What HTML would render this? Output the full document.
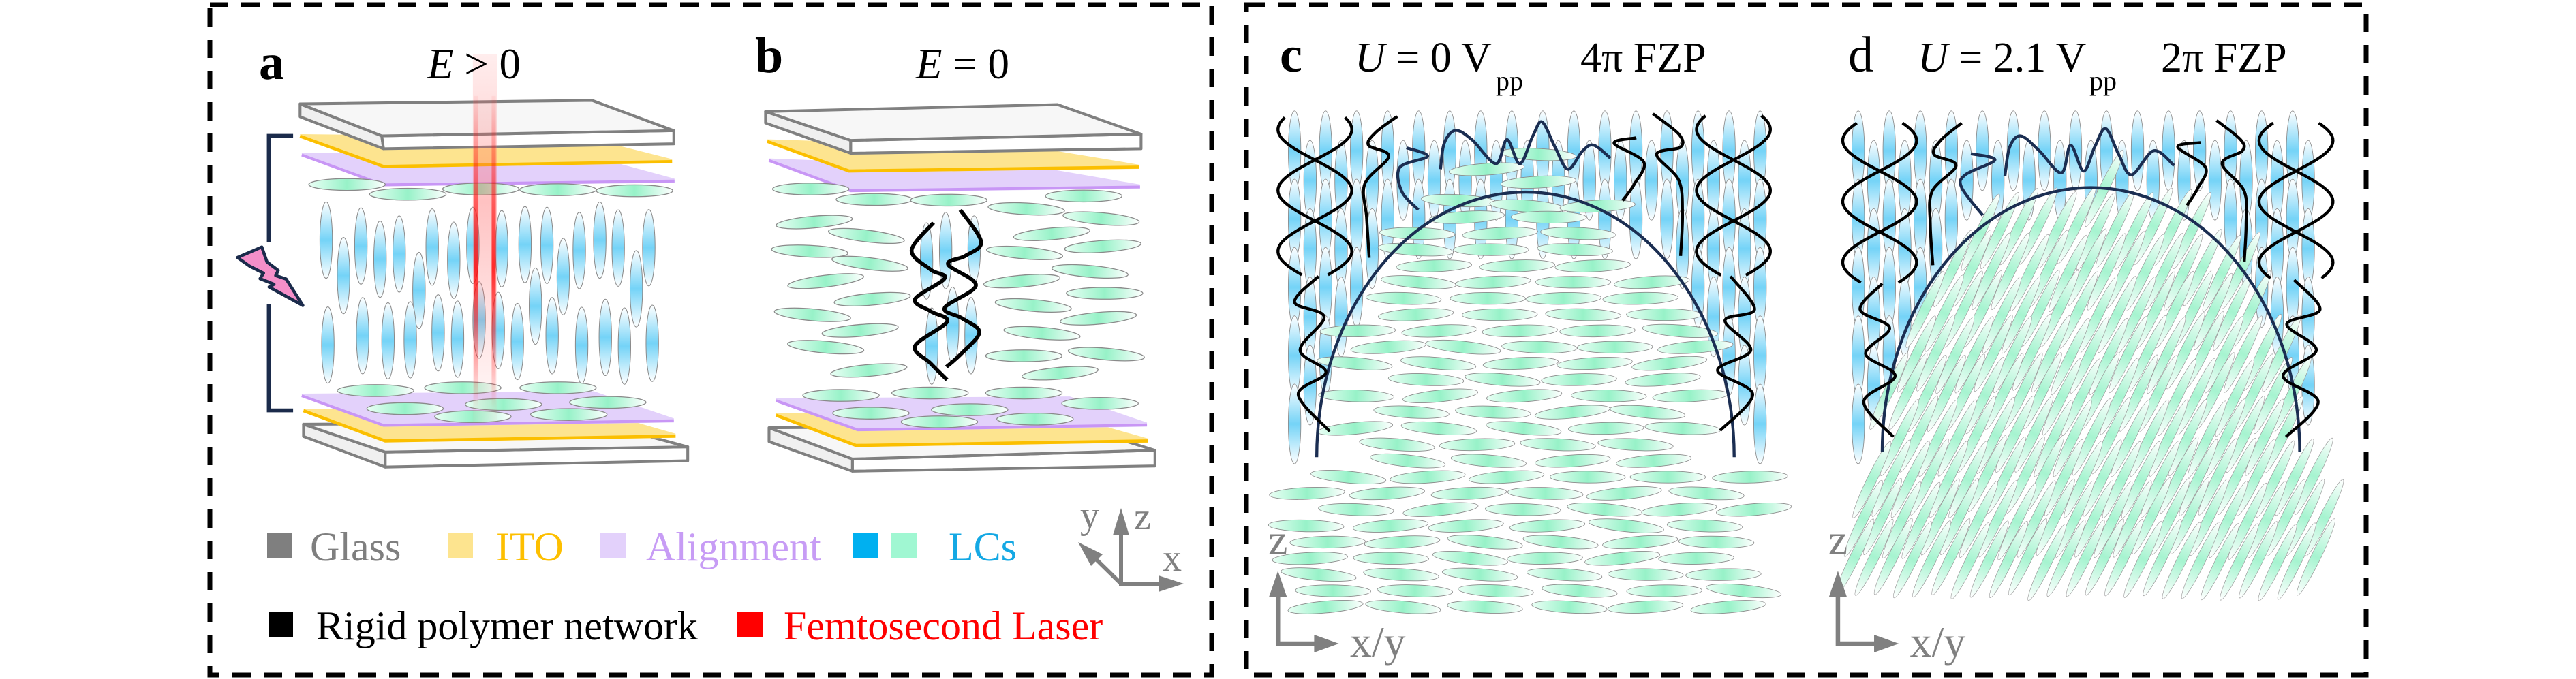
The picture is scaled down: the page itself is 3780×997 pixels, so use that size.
<!DOCTYPE html>
<html><head><meta charset="utf-8">
<style>
html,body{margin:0;padding:0;background:#fff;}
svg{display:block;font-family:"Liberation Serif","Times New Roman",serif;}
svg text{font-family:"Liberation Serif","Times New Roman",serif;}
</style></head>
<body>
<svg id="s" xmlns="http://www.w3.org/2000/svg" width="3780" height="997" viewBox="0 0 3780 997" font-family="Liberation Serif, serif">
<defs>
<linearGradient id="gB" x1="0" y1="0" x2="0" y2="1"><stop offset="0" stop-color="#ffffff"/><stop offset="0.5" stop-color="#74d3f7"/><stop offset="1" stop-color="#ffffff"/></linearGradient>
<linearGradient id="gG" x1="0" y1="0" x2="1" y2="0"><stop offset="0" stop-color="#eafff5"/><stop offset="0.5" stop-color="#97f2c8"/><stop offset="1" stop-color="#ffffff"/></linearGradient>
<linearGradient id="gG2" x1="0" y1="0" x2="1" y2="0"><stop offset="0" stop-color="#ffffff"/><stop offset="0.5" stop-color="#a6f4d0"/><stop offset="1" stop-color="#ffffff"/></linearGradient>
<linearGradient id="gL" x1="0" y1="0" x2="0" y2="1"><stop offset="0" stop-color="#ff6a6a" stop-opacity="0.12"/><stop offset="0.4" stop-color="#ff5050" stop-opacity="0.35"/><stop offset="1" stop-color="#ff8080" stop-opacity="0.05"/></linearGradient>
<linearGradient id="gLc" x1="0" y1="0" x2="0" y2="1"><stop offset="0" stop-color="#ff0000" stop-opacity="0.05"/><stop offset="0.35" stop-color="#ff0000" stop-opacity="0.55"/><stop offset="0.55" stop-color="#ff0000" stop-opacity="0.8"/><stop offset="1" stop-color="#ff0000" stop-opacity="0"/></linearGradient>
</defs>

<rect x="308" y="7" width="1470" height="984" fill="none" stroke="#000" stroke-width="7" stroke-dasharray="27 19"/>
<rect x="1829" y="7" width="1643" height="984" fill="none" stroke="#000" stroke-width="7" stroke-dasharray="27 19"/>

<g id="pa" transform="translate(300,100) scale(0.5102)"></g>
<g id="pb" transform="translate(1080,100) scale(0.5102)"></g>
<g id="pc" transform="translate(1840,140) scale(0.5421)"></g>
<g id="pd" transform="translate(2640,140) scale(0.5421)"></g>

<text x="380" y="116" font-size="74" font-weight="bold">a</text>
<text x="627" y="115" font-size="63"><tspan font-style="italic">E</tspan> &gt; 0</text>
<text x="1108" y="106" font-size="74" font-weight="bold">b</text>
<text x="1344" y="115" font-size="63"><tspan font-style="italic">E</tspan> = 0</text>
<text x="1878" y="105" font-size="74" font-weight="bold">c</text>
<text x="1988" y="105" font-size="62"><tspan font-style="italic">U</tspan> = 0 V</text>
<text x="2195" y="132" font-size="40">pp</text>
<text x="2319" y="105" font-size="62">4π FZP</text>
<text x="2712" y="105" font-size="74">d</text>
<text x="2814" y="105" font-size="62"><tspan font-style="italic">U</tspan> = 2.1 V</text>
<text x="3066" y="132" font-size="40">pp</text>
<text x="3171" y="105" font-size="62">2π FZP</text>

<rect x="392" y="783" width="37" height="36" fill="#7f7f7f"/>
<text x="455" y="823" font-size="60" fill="#7f7f7f">Glass</text>
<rect x="658" y="783" width="36" height="36" fill="#fde48f"/>
<text x="728" y="823" font-size="60" fill="#fdbf00">ITO</text>
<rect x="880" y="783" width="38" height="36" fill="#e3d1fb"/>
<text x="948" y="823" font-size="60" fill="#c79cf5">Alignment</text>
<rect x="1252" y="783" width="37" height="36" fill="#00b0f0"/>
<rect x="1308" y="783" width="37" height="36" fill="#a0f7d2"/>
<text x="1392" y="823" font-size="60" fill="#14a8e4">LCs</text>
<rect x="394" y="898" width="36" height="37" fill="#000"/>
<text x="464" y="939" font-size="60" fill="#000">Rigid polymer network</text>
<rect x="1081" y="898" width="39" height="37" fill="#ff0000"/>
<text x="1150" y="939" font-size="60" fill="#ff0000">Femtosecond Laser</text>

<g stroke="#808080" stroke-width="6" fill="none">
<line x1="1645" y1="860" x2="1645" y2="780"/>
<line x1="1642" y1="857" x2="1705" y2="857"/>
<line x1="1645" y1="857" x2="1600" y2="813"/>
</g>
<g fill="#808080">
<polygon points="1645,746 1633,786 1657,786"/>
<polygon points="1737,857 1700,845 1700,869"/>
<polygon points="1582,796 1601,831 1618,814"/>
</g>
<text x="1585" y="775" font-size="56" fill="#808080">y</text>
<text x="1664" y="777" font-size="56" fill="#808080">z</text>
<text x="1706" y="838" font-size="56" fill="#808080">x</text>
</svg>

<script>
var NS="http://www.w3.org/2000/svg";
function E(p,t,a){var e=document.createElementNS(NS,t);for(var k in a)e.setAttribute(k,a[k]);p.appendChild(e);return e;}
function poly(p,pts,fill,stroke,sw){return E(p,"polygon",{points:pts,fill:fill,stroke:stroke||"none","stroke-width":sw||0,"stroke-linejoin":"round"});}
function ell(p,cx,cy,rx,ry,ang,fill,sw,sc){return E(p,"ellipse",{cx:cx,cy:cy,rx:rx,ry:ry,fill:fill,stroke:sc||"#8a8a8a","stroke-width":sw||1.6,transform:"rotate("+(ang||0)+" "+cx+" "+cy+")"});}
function cr(P){var d="M"+P[0][0]+","+P[0][1];for(var i=0;i<P.length-1;i++){var p0=P[i-1]||P[i],p1=P[i],p2=P[i+1],p3=P[i+2]||p2;
var c1=[p1[0]+(p2[0]-p0[0])/6,p1[1]+(p2[1]-p0[1])/6],c2=[p2[0]-(p3[0]-p1[0])/6,p2[1]-(p3[1]-p1[1])/6];
d+=" C"+c1[0].toFixed(1)+","+c1[1].toFixed(1)+" "+c2[0].toFixed(1)+","+c2[1].toFixed(1)+" "+p2[0]+","+p2[1];}return d;}
function strand(p,P,col,w){return E(p,"path",{d:cr(P),fill:"none",stroke:col,"stroke-width":w,"stroke-linejoin":"round"});}
function sine(p,cx,y0,y1,A,Pd,yc,sgn,col,w){var d="";for(var y=y0;y<=y1;y+=6){var x=cx+sgn*A*Math.sin(2*Math.PI*(y-yc)/Pd);d+=(d?" L":"M")+x.toFixed(1)+","+y;}E(p,"path",{d:d,fill:"none",stroke:col,"stroke-width":w,"stroke-linejoin":"round"});}
var seed=7;function rnd(){seed=(seed*16807)%2147483647;return (seed-1)/2147483646;}

var a=document.getElementById("pa");
poly(a,"280,243 1100,250 1352,318 1352,330 515,340 280,252","#e3d1fb");
E(a,"polyline",{points:"280,250 515,336 1352,325",fill:"none",stroke:"#c896f5","stroke-width":8});
poly(a,"275,190 1100,200 1345,262 1345,274 515,287 275,199","#fde48f");
E(a,"polyline",{points:"275,196 515,283 1345,269",fill:"none",stroke:"#fbbf00","stroke-width":9});
poly(a,"275,103 510,195 515,232 275,140","#f0f0f0","#808080",8);
poly(a,"510,195 1350,180 1350,218 515,232","#ffffff","#808080",8);
poly(a,"275,103 1115,93 1350,180 510,195","#f7f7f7","#808080",8);
[[410,335],[585,363],[795,348],[1017,350],[1237,353]].forEach(function(q){ell(a,q[0],q[1],110,17,0,"url(#gG)",2.5);});
[[350,495],[450,512],[505,550],[560,535],[655,515],[717,553],[772,510],[855,520],[922,508],[985,510],[1078,525],[1137,495],[1190,518],[1278,517],
 [400,597],[617,640],[952,685],[1032,600],[1242,635],[790,725],[845,755],
 [355,797],[455,770],[528,785],[592,782],[672,762],[728,780],[900,787],[1000,770],[1085,798],[1153,775],[1208,800],[1288,792]].forEach(function(q){ell(a,q[0],q[1],18,110,0,"url(#gB)",2);});
poly(a,"285,1025 520,1105 520,1148 285,1060","#f0f0f0","#808080",8);
poly(a,"520,1105 1390,1090 1390,1130 520,1148","#ffffff","#808080",8);
poly(a,"285,1025 1130,1020 1390,1090 520,1105","#f7f7f7","#808080",8);
poly(a,"285,980 1120,985 1355,1052 1355,1064 520,1077 285,989","#fde48f");
E(a,"polyline",{points:"285,986 520,1073 1355,1059",fill:"none",stroke:"#fbbf00","stroke-width":9});
poly(a,"280,937 1120,930 1350,1008 1350,1020 515,1032 280,946","#e3d1fb");
E(a,"polyline",{points:"280,943 515,1028 1350,1015",fill:"none",stroke:"#c896f5","stroke-width":8});
[[492,928],[743,920],[1017,920],[577,980],[860,968],[1160,962],[772,1003],[1048,997]].forEach(function(q){ell(a,q[0],q[1],110,17,0,"url(#gG)",2.5);});
E(a,"rect",{x:772,y:-40,width:70,height:1060,fill:"url(#gL)"});
E(a,"rect",{x:774,y:80,width:14,height:900,fill:"url(#gLc)"});
E(a,"rect",{x:826,y:80,width:12,height:900,fill:"url(#gLc)"});
E(a,"polyline",{points:"255,195 185,195 185,500",fill:"none",stroke:"#1b2b4b","stroke-width":11});
E(a,"polyline",{points:"185,680 185,985 255,985",fill:"none",stroke:"#1b2b4b","stroke-width":11});
poly(a,"95,545 165,515 180,558 212,582 205,597 235,607 283,683 186,630 200,622 160,606 170,590 130,570","#f48fc9","#1b2b4b",9);

var b=document.getElementById("pb");
poly(b,"95,260 900,290 1162,335 1162,347 330,357 95,270","#e3d1fb");
E(b,"polyline",{points:"95,266 330,353 1162,342",fill:"none",stroke:"#c896f5","stroke-width":8});
poly(b,"90,205 870,230 1160,278 1160,290 325,300 90,214","#fde48f");
E(b,"polyline",{points:"90,211 325,296 1160,285",fill:"none",stroke:"#fbbf00","stroke-width":9});
poly(b,"85,125 330,208 330,245 85,158","#f0f0f0","#808080",8);
poly(b,"330,208 1165,190 1165,232 330,245","#ffffff","#808080",8);
poly(b,"85,125 925,105 1165,190 330,208","#f7f7f7","#808080",8);
[[215,348,0],[398,378,0],[612,380,0],[1000,368,0],[835,405,3],[225,443,-5],[375,483,7],[1050,433,5],[908,477,-5],[212,527,3],[385,563,7],[1055,513,-4],[830,532,5],[258,613,-7],[1018,585,5],[822,613,-5],[392,665,-5],[1060,648,0],[220,710,5],[855,683,5],[1042,720,-5],[357,755,-5],[880,763,5],[258,803,5],[828,828,0],[1065,823,5],[382,870,-5],[932,878,-5]].forEach(function(q){ell(b,q[0],q[1],110,17,q[2],"url(#gG)",2.5);});
[[548,555,110],[603,525,110],[685,520,95],[623,740,110],[563,800,110],[676,770,110]].forEach(function(q){ell(b,q[0],q[1],18,q[2],0,"url(#gB)",2);});
strand(b,[[568,445],[505,525],[560,580],[600,605],[515,665],[560,700],[607,730],[515,800],[560,850],[607,897]],"#000",11);
strand(b,[[645,408],[705,500],[660,540],[610,565],[690,625],[600,690],[650,720],[700,760],[650,820],[605,860]],"#000",11);
poly(b,"95,1035 335,1125 335,1160 95,1075","#f0f0f0","#808080",8);
poly(b,"335,1125 1205,1100 1205,1145 335,1160","#ffffff","#808080",8);
poly(b,"95,1035 980,1030 1205,1100 335,1125","#f7f7f7","#808080",8);
poly(b,"115,993 950,1000 1185,1066 1185,1078 345,1090 115,1003","#fde48f");
E(b,"polyline",{points:"115,999 345,1086 1185,1073",fill:"none",stroke:"#fbbf00","stroke-width":9});
poly(b,"115,950 960,945 1182,1020 1182,1032 350,1045 115,960","#e3d1fb");
E(b,"polyline",{points:"115,957 350,1041 1182,1027",fill:"none",stroke:"#c896f5","stroke-width":8});
[[302,942],[558,935],[828,935],[1047,965],[388,993],[672,983],[585,1018],[860,1010]].forEach(function(q){ell(b,q[0],q[1],110,17,0,"url(#gG)",2.5);});

function panel(g,cfg){
  var cx0=cfg.cx,by=cfg.by,rx=cfg.rx,ry=cfg.ry;
  function inside(x,y){var t=(x-cx0)/rx;if(Math.abs(t)>=1)return false;return y>by-ry*Math.sqrt(1-t*t);}
  for(var i=0;i<31;i++){var x=cfg.bx0+i*42;if(x>cfg.bx1)break;
    for(var r=0;r<5;r++){var y=150+r*185+(i%2?80:0);if(y>cfg.bmax)continue;
      if(inside(x,y+30)&&!(y<cfg.topBlue&&x>cfg.tb0&&x<cfg.tb1))continue;
      ell(g,x,y,17,108,0,"url(#gB)",1.6);}}
  if(cfg.tilt){
    for(var r=0;r<12;r++){var y=250+r*112;
      for(var x=150+((r*29)%52);x<1430;x+=52){var yy=y+(rnd()-0.5)*20;
        if(!(inside(x,yy)||yy>cfg.by+20))continue; if(yy>1340)continue;
        ell(g,x,yy,115,13,-64,"url(#gG2)",1.3,"#9a9a9a");}}
  }else{
    cfg.extra.forEach(function(q){ell(g,q[0],q[1],102,16,q[2],"url(#gG)",1.6);});
    for(var y=330;y<=1395;y+=44){var off=(rnd()*150);
      for(var x=140+off;x<1390;x+=200+rnd()*30){
        if(!(inside(x,y)||y>995))continue;
        if(x<cfg.cx-rx+90&&y<995)continue; if(x>cfg.cx+rx-90&&y<995)continue;
        ell(g,x,y,102,16,(rnd()-0.5)*12,"url(#gG)",1.6);}}
  }
  E(g,"path",{d:"M"+(cx0-rx)+","+by+" A"+rx+","+ry+" 0 0 1 "+(cx0+rx)+","+by,fill:"none",stroke:"#1b2e52","stroke-width":8});
  var H=cfg.h;
  sine(g,H.lc,H.ly0,H.ly1,100,330,H.yc,1,"#000",8);
  sine(g,H.lc,H.ly0,H.ly1,100,330,H.yc,-1,"#000",8);
  sine(g,H.rc,H.ry0,H.ry1,100,330,H.yc,1,"#000",8);
  sine(g,H.rc,H.ry0,H.ry1,100,330,H.yc,-1,"#000",8);
  H.black.forEach(function(P){strand(g,P,"#000",8);});
  H.navy.forEach(function(P){strand(g,P,"#1b2e52",8);});
  var ax=cfg.ax;
  E(g,"polyline",{points:ax+",1355 "+ax+",1485 "+(ax+100)+",1485",fill:"none",stroke:"#808080","stroke-width":12});
  E(g,"polygon",{points:ax+",1288 "+(ax-24)+",1358 "+(ax+24)+",1358",fill:"#808080"});
  E(g,"polygon",{points:(ax+165)+",1485 "+(ax+98)+",1461 "+(ax+98)+",1509",fill:"#808080"});
  var t1=E(g,"text",{x:ax-26,y:1242,"font-size":118,fill:"#808080","font-family":"Liberation Serif, serif"});t1.textContent="z";
  var t2=E(g,"text",{x:ax+195,y:1520,"font-size":118,fill:"#808080","font-family":"Liberation Serif, serif"});t2.textContent="x/y";
}
panel(document.getElementById("pc"),{cx:735,by:980,rx:565,ry:718,bx0:110,bx1:1370,bmax:900,topBlue:340,tb0:400,tb1:1080,ax:65,
 extra:[[630,200,-4],[770,235,-3],[555,285,3],[740,300,4],[930,300,-3],[770,160,3]],
 h:{lc:165,ly0:60,ly1:490,rc:1298,ry0:55,ry1:490,yc:175,
 black:[[[175,490],[110,560],[190,600],[125,690],[195,750],[120,810],[205,910]],
        [[1290,490],[1355,580],[1275,610],[1345,690],[1255,745],[1350,810],[1262,908]],
        [[388,57],[330,100],[310,135],[365,165],[300,240],[305,330],[312,440]],
        [[1080,50],[1150,105],[1155,140],[1090,160],[1150,230],[1160,320],[1155,435]],
        [[1035,115],[975,130],[1055,180],[1030,240],[998,285]]],
 navy:[[[413,142],[470,165],[395,195],[400,260],[445,310]],
       [[505,200],[515,130],[545,95],[590,120],[655,185],[685,120],[720,185],[755,110],[780,72],[815,140],[850,200],[890,150],[920,135],[965,170]]]}});
panel(document.getElementById("pd"),{cx:790,by:965,rx:565,ry:715,tilt:true,bx0:160,bx1:1410,bmax:900,topBlue:330,tb0:450,tb1:1120,ax:105,
 h:{lc:218,ly0:75,ly1:510,rc:1345,ry0:75,ry1:500,yc:205,
 black:[[[225,510],[165,580],[245,630],[180,700],[260,760],[175,830],[255,925]],
        [[1340,500],[1410,580],[1320,620],[1400,690],[1310,760],[1405,830],[1318,925]],
        [[440,75],[385,120],[365,160],[425,190],[360,260],[355,350],[362,460]],
        [[1130,68],[1195,120],[1200,150],[1145,185],[1205,260],[1210,350],[1205,450]],
        [[1087,128],[1025,140],[1100,195],[1080,250],[1050,298]]],
 navy:[[[465,158],[530,175],[450,215],[440,250],[497,325]],
       [[557,218],[570,140],[600,110],[650,150],[710,210],[735,135],[770,205],[800,140],[830,90],[865,160],[900,215],[960,150],[1015,190]]]}});
</script>
</body></html>
